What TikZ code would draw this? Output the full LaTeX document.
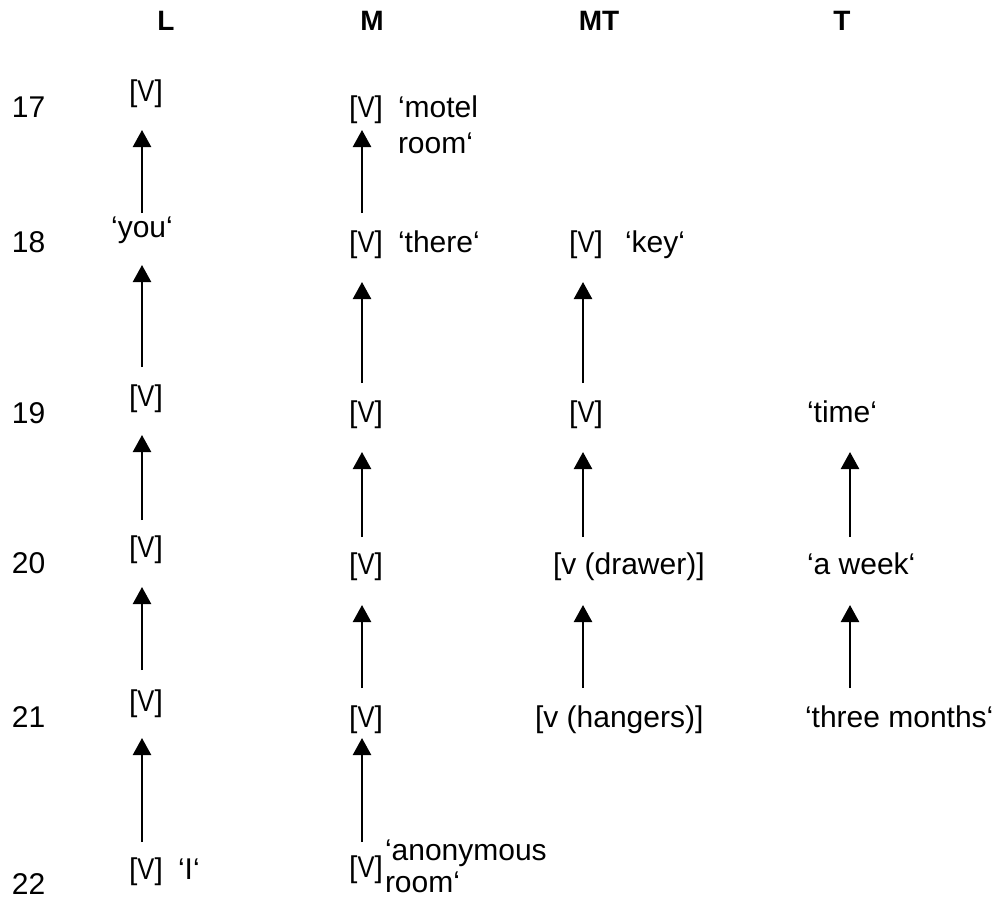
\documentclass[tikz,border=0pt]{standalone}
\usepackage{fontspec}
\setmainfont{Liberation Sans}
\usepackage{graphicx}
\usetikzlibrary{arrows.meta}
\newcommand{\vbr}{[\scalebox{0.85}[1]{V}]}
\begin{document}
\begin{tikzpicture}[x=1pt,y=-1pt,
  every node/.style={inner sep=0pt, outer sep=0pt, font=\fontsize{30}{36}\selectfont},
  lab/.style={text height=21pt, text depth=6pt},
  head/.style={anchor=base, font=\fontsize{28}{34}\selectfont\bfseries},
  rowlab/.style={anchor=base west},
  vnode/.style={lab, anchor=base},
  txt/.style={lab, anchor=base west},
  arr/.style={-{Triangle[width=18pt,length=17pt]}, line width=2.4pt}]
\useasboundingbox (0,0) rectangle (993,899);
% headers
\node[head] (hL)  at (166,31) {L};
\node[head] (hM)  at (372,31) {M};
\node[head] (hMT) at (599,31) {MT};
\node[head] (hT)  at (842,31) {T};
% row labels
\node[rowlab] (r17) at (12,117) {17};
\node[rowlab] (r18) at (12,252) {18};
\node[rowlab] (r19) at (12,423) {19};
\node[rowlab] (r20) at (12,573) {20};
\node[rowlab] (r21) at (12,727) {21};
\node[rowlab] (r22) at (12,894) {22};
% column coordinates for arrows
\coordinate (cL)  at (142,0);
\coordinate (cM)  at (362,0);
\coordinate (cMT) at (583,0);
\coordinate (cT)  at (850,0);
% L column
\node[vnode] (l17) at (146,101) {\vbr};
\node[vnode] (l18) at (142,237) {‘you‘};
\node[vnode] (l19) at (146,406) {\vbr};
\node[vnode] (l20) at (146,557) {\vbr};
\node[vnode] (l21) at (146,711) {\vbr};
\node[vnode] (l22) at (146,879) {\vbr};
\node[txt] (l22t) at (178,879) {‘I‘};
% M column
\node[vnode] (m17) at (366,117) {\vbr};
\node[anchor=base west] (m17t) at (398,117) {\begin{tabular}[t]{@{}l@{}}‘motel\\room‘\end{tabular}};
\node[vnode] (m18) at (366,252) {\vbr};
\node[txt] (m18t) at (398,252) {‘there‘};
\node[vnode] (m19) at (366,422) {\vbr};
\node[vnode] (m20) at (366,574) {\vbr};
\node[vnode] (m21) at (366,727) {\vbr};
\node[vnode] (m22) at (366,877) {\vbr};
\node[anchor=base west, font=\fontsize{30}{32}\selectfont] (m22t) at (385,860) {\begin{tabular}[t]{@{}l@{}}‘anonymous\\room‘\end{tabular}};
% MT column
\node[vnode] (mt18) at (586,252) {\vbr};
\node[txt] (mt18t) at (625,252) {‘key‘};
\node[vnode] (mt19) at (586,422) {\vbr};
\node[txt] (mt20) at (553,574) {[v (drawer)]};
\node[txt] (mt21) at (535,727) {[v (hangers)]};
% T column
\node[txt] (t19) at (807,422) {‘time‘};
\node[txt] (t20) at (807,574) {‘a week‘};
\node[txt] (t21) at (805,727) {‘three months‘};
% arrows L
\draw[arr, shorten <=3pt,  shorten >=23pt] (l18.north -| cL) -- (l17.south -| cL);
\draw[arr, shorten <=18pt, shorten >=22pt] (l19.north -| cL) -- (l18.south -| cL);
\draw[arr, shorten <=16pt, shorten >=23pt] (l20.north -| cL) -- (l19.south -| cL);
\draw[arr, shorten <=20pt, shorten >=24pt] (l21.north -| cL) -- (l20.south -| cL);
\draw[arr, shorten <=16pt, shorten >=21pt] (l22.north -| cL) -- (l21.south -| cL);
% arrows M
\draw[arr, shorten <=18pt, shorten >=7pt]  (m18.north -| cM) -- (m17.south -| cM);
\draw[arr, shorten <=18pt, shorten >=24pt] (m19.north -| cM) -- (m18.south -| cM);
\draw[arr, shorten <=16pt, shorten >=24pt] (m20.north -| cM) -- (m19.south -| cM);
\draw[arr, shorten <=18pt, shorten >=25pt] (m21.north -| cM) -- (m20.south -| cM);
\draw[arr, shorten <=14pt, shorten >=5pt]  (m22.north -| cM) -- (m21.south -| cM);
% arrows MT
\draw[arr, shorten <=18pt, shorten >=24pt] (mt19.north -| cMT) -- (mt18.south -| cMT);
\draw[arr, shorten <=16pt, shorten >=24pt] (mt20.north -| cMT) -- (mt19.south -| cMT);
\draw[arr, shorten <=18pt, shorten >=25pt] (mt21.north -| cMT) -- (mt20.south -| cMT);
% arrows T
\draw[arr, shorten <=16pt, shorten >=24pt] (t20.north -| cT) -- (t19.south -| cT);
\draw[arr, shorten <=18pt, shorten >=25pt] (t21.north -| cT) -- (t20.south -| cT);
\end{tikzpicture}
\end{document}
